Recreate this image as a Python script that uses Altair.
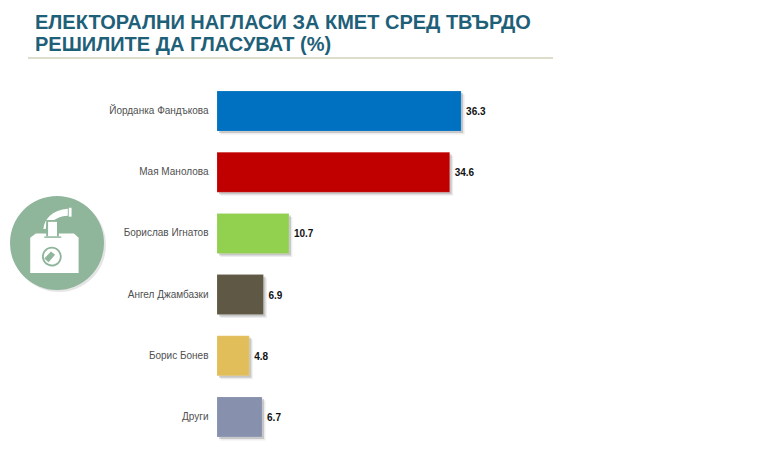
import altair as alt
import pandas as pd

names = ["Йорданка Фандъкова", "Мая Манолова", "Борислав Игнатов", "Ангел Джамбазки", "Борис Бонев", "Други"]
values = [36.3, 34.6, 10.7, 6.9, 4.8, 6.7]
colors = ["#0070C0", "#C00000", "#92D050", "#5F5845", "#E2BE5B", "#8790AD"]
title_lines = ["ЕЛЕКТОРАЛНИ  НАГЛАСИ  ЗА  КМЕТ СРЕД  ТВЪРДО", "РЕШИЛИТЕ  ДА  ГЛАСУВАТ  (%)"]

df = pd.DataFrame({"name": names, "value": values, "label": [f"{v:.1f}" for v in values]})
one = pd.DataFrame({"a": [0]})

LEFT, TOP = 209, 77
W, H = 269, 358
def px(x): return alt.value(x - 8 - LEFT)
def py(y): return alt.value(y - 8 - TOP)

xs = alt.X("value:Q", scale=alt.Scale(domain=[0, 40]), axis=None)
ys = alt.Y("name:N", sort=names, title=None,
           scale=alt.Scale(paddingInner=0.346, paddingOuter=0.1),
           axis=alt.Axis(domain=False, ticks=False, labelFont="Liberation Sans", labelFontSize=10,
                         labelColor="#505050", labelPadding=9, labelLimit=200))

shadow2 = alt.Chart(df).mark_bar(color="#000000", opacity=0.07, xOffset=3.5, yOffset=3.5).encode(x=xs, y=ys)
shadow1 = alt.Chart(df).mark_bar(color="#000000", opacity=0.16, xOffset=2, yOffset=2).encode(x=xs, y=ys)
bars = alt.Chart(df).mark_bar(stroke="#ffffff", strokeOpacity=0.25, strokeWidth=0.5).encode(
    x=xs, y=ys,
    color=alt.Color("name:N", sort=names, scale=alt.Scale(domain=names, range=colors), legend=None))
labels = alt.Chart(df).mark_text(align="left", baseline="middle", dx=5, dy=1, font="Liberation Sans",
                                 fontSize=10, fontWeight="bold", color="#111111").encode(
    x=xs, y=ys, text="label:N")

title = alt.Chart(one).mark_text(text=title_lines, align="left", baseline="alphabetic", lineHeight=22,
                                 font="Liberation Sans", fontSize=20, fontWeight="bold",
                                 color="#1F6079").encode(x=px(35), y=py(28.5))
rule = alt.Chart(one).mark_rule(color="#DEDDCB", strokeWidth=2).encode(
    x=px(28), x2=px(553), y=py(58))

# Ballot-box icon: unit-square paths centred on the badge
CX, CY, SIZE = 57, 243, 94 ** 2
GREEN = "#8FB59B"
BOX = "M-0.57 -0.11 L-0.45 -0.2 L0.36 -0.2 L0.46 -0.11 L0.46 0.64 L-0.57 0.64 Z"
SLOT = "M-0.27 -0.14 L0.09 -0.14 L0.09 -0.11 L-0.27 -0.11 Z"
PAPER_GAP = "M-0.23 -0.14 L-0.23 -0.49 L0.04 -0.49 L0.04 -0.14 Z"
PAPER = "M-0.19 -0.14 L-0.19 -0.45 L0 -0.45 L0 -0.14 Z"
ARM = "M-0.29 -0.3 C-0.27 -0.52 -0.1 -0.7 0.23 -0.73 L0.23 -0.58 C0.05 -0.57 -0.06 -0.5 -0.12 -0.44 L-0.22 -0.44 L-0.24 -0.3 Z"
CUFF = "M0.25 -0.75 L0.31 -0.75 L0.31 -0.56 L0.25 -0.56 Z"
STAMP = "M0.1 0.29 A0.21 0.21 0 1 1 0.1 0.289 Z"
STAMP_IN = "M0.06 0.29 A0.17 0.17 0 1 1 0.06 0.289 Z"
STAMP_W = "M-0.27 0.33 L-0.13 0.18 L-0.04 0.25 L-0.18 0.41 Z"

def badge(shape, color, cx=CX, cy=CY, opacity=1.0):
    return alt.Chart(one).mark_point(shape=shape, filled=True, color=color, opacity=opacity,
                                     size=SIZE, strokeWidth=0).encode(x=px(cx), y=py(cy))

icon = [
    badge("circle", "#000000", CX + 2, CY + 2, 0.10),
    badge("circle", GREEN),
    badge(ARM, "#FFFFFF"),
    badge(CUFF, "#FFFFFF"),
    badge(BOX, "#FFFFFF"),
    badge(PAPER_GAP, GREEN),
    badge(PAPER, "#FFFFFF"),
    badge(SLOT, GREEN),
    badge(STAMP, GREEN),
    badge(STAMP_IN, "#FFFFFF"),
    badge(STAMP_W, GREEN),
]

chart = alt.layer(shadow2, shadow1, bars, labels, title, rule, *icon).properties(
    width=W, height=H,
    padding={"left": LEFT, "top": TOP, "right": 764 - LEFT - W, "bottom": 0},
    autosize=alt.AutoSizeParams(type="none"),
    background="#FFFFFF",
).configure_view(stroke=None)

chart.save("out.html", embed_options={"renderer": "svg", "actions": False})
